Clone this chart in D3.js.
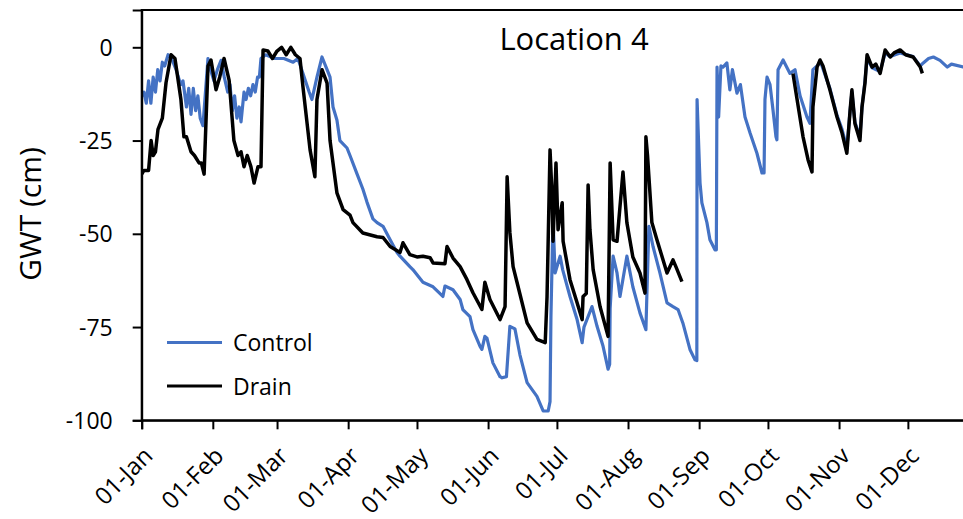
<!DOCTYPE html>
<html>
<head>
<meta charset="utf-8">
<script src="https://cdn.jsdelivr.net/npm/d3@7"></script>
<style>
  html, body { margin: 0; padding: 0; background: #fff; }
  svg { display: block; }
  text { font-family: "Open Sans", "Noto Sans", sans-serif; fill: #000; }
</style>
</head>
<body>
<svg id="chart" width="963" height="519"></svg>
<script>
// Groundwater table depth (cm) through the year, day offsets counted from 01-Jan.
const chartTitle = "Location 4";
const yLabel = "GWT (cm)";
const seriesNames = ["Control", "Drain"];
const seriesColors = ["#4472C4", "#000000"];
const yTicks = [0, -25, -50, -75, -100];

const controlDay = [
  0, 1, 2, 3, 4, 5, 6, 7, 8, 9, 10, 11.5, 13, 15, 17, 18, 19.5, 20.5, 21.5, 22.5,
  23.5, 24.5, 25.5, 26.7, 28.9, 30, 31.5, 33, 34.6, 36, 37.5, 38.5, 39.5, 40.5, 41.5,
  42.5, 43.3, 44.6, 45.5, 46.5, 47.5, 48.5, 49.5, 50.5, 51.3, 52, 54, 58, 62, 66,
  68.1, 70.3, 73, 74.2, 76.4, 78.6, 80.8, 82.1, 83.4, 85.1, 86.4, 89.5, 90.8, 93.9,
  96.4, 98.2, 100.8, 102.6, 105.2, 108.3, 111.3, 112.6, 116.9, 118.2, 122.6, 127,
  131.3, 132.2, 135.7, 138.8, 140, 143.1, 144.4, 147.5, 148.3, 149.6, 150.5, 153.1,
  156.2, 157.1, 159, 160.5, 162.7, 164.9, 168, 172.3, 175, 177.2, 178, 178.4, 179.3,
  180.2, 182.4, 183.5, 186.7, 189.8, 192, 192.8, 196.3, 198.5, 201.1, 203.3, 204,
  204.2, 205.5, 207.2, 208.5, 211.5, 214.1, 217.2, 219.8, 220.2, 221.1, 222.9, 225.9,
  229, 231.6, 233.8, 235.9, 239, 241.2, 242, 242.1, 243.4, 244.2, 246.4, 247.7, 249.9,
  250.5, 250.8, 251.5, 252.5, 253.4, 255.1, 256.4, 257.5, 259.5, 261, 263, 265.2,
  268.2, 270.4, 271.3, 271.7, 272.6, 273.9, 275.2, 276.5, 276.9, 277.4, 279.6, 282.6,
  284.8, 287, 290, 291.3, 292.6, 294.4, 296, 298.7, 300, 303, 305.3, 307.4, 308.8,
  309.6, 310.9, 313.1, 314, 315.3, 316.2, 318.4, 321.9, 324.1, 326.3, 330.6, 336.3,
  339.4, 340.7, 343, 345.1, 348, 351.2, 353, 358.1, 362
];
const controlGwt = [
  -13, -12, -15, -9, -15, -8, -12, -6, -9, -4, -5, -2, -3, -6, -10, -9, -16, -11, -18, -11,
  -17, -13, -19, -21, -3, -6, -9, -6, -3.5, -8, -12, -10, -17, -13, -19,
  -16, -20, -12, -14, -11, -13, -10, -12, -8, -8, -3, -2, -3, -3, -4,
  -3, -7, -12, -14, -8, -2.6, -6, -8, -16, -19.5, -25, -27, -29, -34,
  -38, -41.5, -46, -47, -48, -51.6, -55, -56, -58.8, -59.6, -63, -64.2,
  -66.8, -64, -65, -67.6, -70.3, -72.2, -75.7, -80.2, -81, -77.5, -78, -84.6,
  -88.3, -88.6, -88.3, -74.8, -75.5, -82.5, -89.9, -93.6, -97.5, -97.5, -95, -72.2, -46,
  -60.5, -56, -59.6, -66.8, -73, -79.2, -75, -69.5, -74.8, -80.1, -86.3, -85,
  -70, -56, -60.5, -66.8, -56, -64.2, -71.2, -75.7, -66.8, -48, -53.4, -60.5,
  -68.5, -69.5, -70.3, -73.9, -81, -83.8, -84, -14, -36.4, -41.7, -47, -51.6, -54.3,
  -54.3, -5.3, -18.7, -5, -5.3, -4.2, -11.4, -6, -12.3, -10, -18.7, -23,
  -28.4, -33.7, -33.7, -14, -8, -10, -16.8, -24, -24.8, -6, -3.4, -7,
  -6, -13, -18.7, -20.4, -6, -5, -4, -8.8, -11, -18, -22, -27, -17,
  -12, -20, -24, -16, -9, -3, -5.5, -6.5, -1.5, -2.5, -1.5, -2.5,
  -5, -4.2, -3, -2.6, -3.5, -5.3, -4.5, -5.3, -5.5
];

// null marks the period without drain readings
const drainDay = [
  0, 1, 2, 3, 4.1, 5, 6, 7.1, 9, 10.6, 12.8, 14.5, 17.1, 18.4, 19.5, 21.5, 23, 25, 26,
  27.2, 28.9, 30.2, 32.4, 34, 35.9, 38.1, 40.2, 42, 43.3, 44.6, 46, 47.6, 49, 50.7, 52,
  52.9, 55, 57, 59, 61, 63, 65, 67, 69, 70.3, 73.4, 75.5, 76.4, 78.6, 80.8, 82.1, 85.1,
  87.8, 90.8, 92.1, 96.4, 102.6, 105.2, 108.3, 112.6, 113.9, 116.9, 120, 122.6, 125.7,
  127, 132.2, 133.1, 135.7, 138.8, 141.8, 144.4, 148.3, 149.6, 151.8, 156.2, 158.4,
  159.3, 160.5, 161.9, 163.6, 168, 172.3, 175.9, 176.7, 178, 178.9, 179.3, 180.6, 181.5,
  183.3, 183.7, 186.7, 189.8, 192, 192.4, 193.8, 194.6, 195.4, 196.8, 199.8, 203.3,
  204.2, 205.5, 207.2, 209.8, 211.5, 214.1, 217.2, 219.4, 219.8, 220.5, 222.4, 224.6,
  229, 231.6, 233, 235.5, 260,
  283.9, 285.7, 288.3, 290.5, 292.2, 292.6, 294.4, 295.7, 297, 300, 303.1, 305.3, 307.4,
  308.8, 309.6, 310.9, 313.1, 314, 315.3, 316.2, 318.4, 320, 321.9, 324.1, 326.3, 328,
  330.6, 333, 336.3, 339.4, 340.3
];
const drainGwt = [
  -34, -33, -33, -33, -25, -29, -28, -22, -19, -9.5, -2, -3, -14, -24, -24, -28, -29, -31, -31,
  -34, -5, -3.4, -11.4, -8, -3, -8.8, -25, -29, -28, -32, -29, -32, -36.4, -32, -32,
  -0.7, -1, -3, -1, 0, -2, 0, -2, -3, -10.6, -27.5, -34.7, -14, -6, -9.6, -25, -39,
  -43.5, -45, -47, -49.8, -50.8, -51, -53.4, -55, -52.4, -55.6, -56.2, -56, -56.4,
  -57.8, -58, -53.4, -56.5, -58.8, -62.3, -65.8, -70.3, -63, -67.6, -73, -69.5,
  -34.7, -49.7, -58.8, -63, -73.9, -78.3, -79.2, -66.8, -27.5, -40, -52, -31, -48.9,
  -41.7, -52, -62.3, -68.5, -73, -66.8, -66, -36.9, -48.9, -59.6, -69.5, -77.5,
  -31, -51.6, -52, -33.4, -47, -56.2, -60.5, -65.9, -24, -29, -47, -51.6,
  -60.5, -57, -59, -62.8, null,
  -7, -14, -24, -30.2, -33.4, -16, -5.3, -3.4, -5, -11.4, -18.7, -23, -28.4,
  -17, -11.4, -20.4, -25, -16, -9.6, -2, -5.3, -4.5, -7, -0.7, -2.6, -1.5,
  -0.7, -2, -2.6, -5.3, -7
];

const svg = d3.select("#chart");
const margin = { left: 141.7, top: 10, bottom: 420.3 };
const yearStart = Date.UTC(2021, 0, 1);
const toDate = d => new Date(yearStart + d * 864e5);

const x = d3.scaleUtc()
  .domain([new Date(yearStart), new Date(Date.UTC(2022, 0, 1))])
  .range([margin.left, 979]);
const y = d3.scaleLinear()
  .domain([-100, 10])
  .range([margin.bottom, margin.top]);

svg.append("rect").attr("width", 963).attr("height", 519).attr("fill", "#fff");

// plot frame (top edge + left/bottom axes)
svg.append("rect")
  .attr("x", x.range()[0]).attr("y", y(10))
  .attr("width", x.range()[1] - x.range()[0]).attr("height", y(-100) - y(10))
  .attr("fill", "none").attr("stroke", "#000").attr("stroke-width", 2);

// series
const controlPts = controlDay.map((d, i) => [toDate(d), controlGwt[i]]);
const drainPts = drainDay.map((d, i) => [toDate(d), drainGwt[i]]);
const line = d3.line()
  .defined(p => p[1] !== null)
  .x(p => x(p[0]))
  .y(p => y(p[1]));

svg.append("clipPath").attr("id", "plotClip")
  .append("rect")
  .attr("x", x.range()[0]).attr("y", y(10))
  .attr("width", x.range()[1] - x.range()[0]).attr("height", y(-100) - y(10) + 2);

const g = svg.append("g").attr("clip-path", "url(#plotClip)");
g.append("path").datum(controlPts)
  .attr("d", line).attr("fill", "none")
  .attr("stroke", seriesColors[0]).attr("stroke-width", 3.2).attr("stroke-linejoin", "round");
g.append("path").datum(drainPts)
  .attr("d", line).attr("fill", "none")
  .attr("stroke", seriesColors[1]).attr("stroke-width", 3.5).attr("stroke-linejoin", "round");

// y axis
const yAxis = svg.append("g")
  .attr("transform", `translate(${margin.left},0)`)
  .call(d3.axisLeft(y).tickValues(yTicks).tickSize(9).tickPadding(20).tickFormat(d => String(d)));
yAxis.select(".domain").attr("stroke-width", 2);
yAxis.selectAll(".tick line").attr("stroke-width", 2);
yAxis.selectAll(".tick text")
  .style("font-size", "23px")
  .style("font-family", "'Open Sans', sans-serif")
  .attr("dy", "0.35em");

// x axis: first of each month
const months = d3.utcMonth.range(new Date(yearStart), new Date(Date.UTC(2021, 11, 2)));
const xAxis = svg.append("g")
  .attr("transform", `translate(0,${margin.bottom})`)
  .call(d3.axisBottom(x).tickValues(months).tickSize(9).tickFormat(d3.utcFormat("%d-%b")));
xAxis.select(".domain").attr("stroke-width", 2);
xAxis.selectAll(".tick line").attr("stroke-width", 2);
xAxis.selectAll(".tick text")
  .style("font-size", "24px")
  .style("font-family", "'Open Sans', sans-serif")
  .attr("text-anchor", "end")
  .attr("transform", "translate(6,31) rotate(-45)")
  .attr("dy", "0.35em")
  .attr("y", 0);

// axis title
svg.append("text")
  .attr("transform", `translate(41,214) rotate(-90)`)
  .attr("text-anchor", "middle")
  .style("font-size", "30px")
  .text(yLabel);

// chart title
svg.append("text")
  .attr("x", 574).attr("y", 50)
  .attr("text-anchor", "middle")
  .style("font-size", "31px")
  .text(chartTitle);

// legend
const legend = svg.append("g");
seriesNames.forEach((name, i) => {
  const cy = 342.5 + i * 43.5;
  legend.append("line")
    .attr("x1", 167).attr("x2", 222).attr("y1", cy).attr("y2", cy)
    .attr("stroke", seriesColors[i]).attr("stroke-width", 3.2);
  legend.append("text")
    .attr("x", 233).attr("y", cy + 8.5)
    .style("font-size", "23px")
    .text(name);
});
</script>
</body>
</html>
